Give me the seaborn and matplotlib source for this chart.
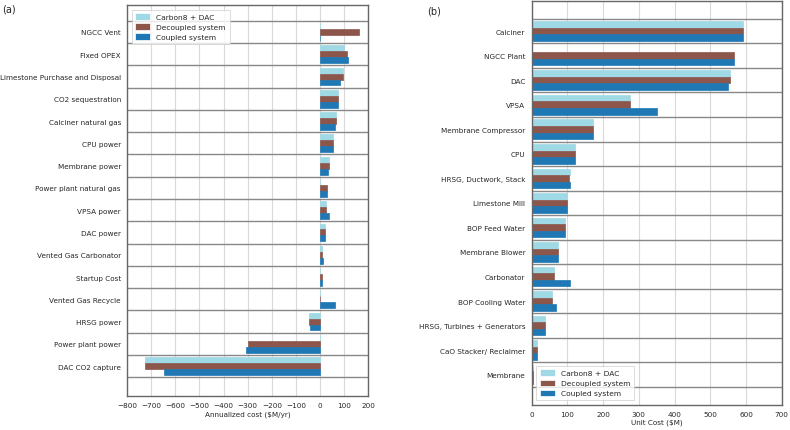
import numpy as np
import pandas as pd
import matplotlib
matplotlib.use('AGG')
from matplotlib import pyplot as plt
import seaborn as sns

# Series names and colours
series = ['Carbon8 + DAC', 'Decoupled system', 'Coupled system']
colors = ['#9fd9e5', '#8c564b', '#1f77b4']

# (a) annualized cost, $M/yr
cost_items = ['NGCC Vent', 'Fixed OPEX', 'Limestone Purchase and Disposal', 'CO2 sequestration',
              'Calciner natural gas', 'CPU power', 'Membrane power', 'Power plant natural gas',
              'VPSA power', 'DAC power', 'Vented Gas Carbonator', 'Startup Cost',
              'Vented Gas Recycle', 'HRSG power', 'Power plant power', 'DAC CO2 capture']
cost_carbon8 = [0, 101, 95, 75, 65, 54, 39, 0, 25, 21, 7, 0, 0, -47, 0, -727]
cost_decoupled = [161, 111, 96, 75, 66, 54, 39, 28, 25, 21, 7, 7, 0, -47, -298, -727]
cost_coupled = [0, 115, 85, 76, 64, 54, 35, 31, 36, 21, 11, 7, 62, -42, -305, -647]

# (b) unit cost, $M
unit_items = ['Calciner', 'NGCC Plant', 'DAC', 'VPSA', 'Membrane Compressor', 'CPU',
              'HRSG, Ductwork, Stack', 'Limestone Mill', 'BOP Feed Water', 'Membrane Blower',
              'Carbonator', 'BOP Cooling Water', 'HRSG, Turbines + Generators',
              'CaO Stacker/ Reclaimer', 'Membrane']
unit_carbon8 = [593, 0, 554, 274, 173, 122, 106, 100, 94, 73, 63, 56, 36, 16, 3]
unit_decoupled = [593, 566, 555, 274, 173, 122, 105, 100, 94, 73, 63, 56, 36, 16, 5]
unit_coupled = [593, 567, 551, 352, 173, 122, 106, 100, 94, 73, 107, 69, 36, 16, 5]


def to_long(items, vals):
    frames = []
    for name, v in zip(series, vals):
        frames.append(pd.DataFrame({'item': items, 'value': v, 'system': name}))
    return pd.concat(frames, ignore_index=True)


df_a = to_long(cost_items, [cost_carbon8, cost_decoupled, cost_coupled])
df_b = to_long(unit_items, [unit_carbon8, unit_decoupled, unit_coupled])

sns.set_style('white')
plt.rcParams['font.family'] = ['DejaVu Sans']
fs = 5.2

fig = plt.figure(figsize=(7.9, 4.31), dpi=100)
ax1 = fig.add_axes([0.161, 0.079, 0.305, 0.907])
ax2 = fig.add_axes([0.673, 0.059, 0.3165, 0.936])


def style_axis(ax, n, xlim, xticks, ylim, xlabel, legend_loc):
    ax.set_xlim(*xlim)
    ax.set_xticks(xticks)
    ax.set_ylim(*ylim)
    ax.set_yticks(range(n), minor=False)
    ax.set_yticks(np.arange(-0.5, n, 1.0), minor=True)
    ax.grid(True, axis='x', which='major', color='#d9d9d9', lw=0.8)
    ax.grid(True, axis='y', which='minor', color='#888888', lw=1.0)
    ax.grid(False, axis='y', which='major')
    ax.set_axisbelow(True)
    ax.tick_params(axis='both', which='major', labelsize=fs, length=2.5, width=0.6, pad=2)
    ax.tick_params(axis='y', which='minor', length=0)
    ax.set_xlabel(xlabel, fontsize=fs, labelpad=1.5)
    ax.set_ylabel('')
    for s in ax.spines.values():
        s.set_color('#666666')
        s.set_linewidth(1.0)
    leg = ax.legend(loc=legend_loc, fontsize=fs + 0.2, frameon=True, borderpad=0.5,
                    handlelength=2.0, handleheight=0.9, labelspacing=0.45,
                    handletextpad=0.8, fancybox=False, borderaxespad=0.6)
    leg.get_frame().set_edgecolor('#cccccc')
    leg.get_frame().set_linewidth(0.6)


sns.barplot(data=df_a, y='item', x='value', hue='system', hue_order=series, palette=colors,
            orient='h', ax=ax1, saturation=1, width=0.8, linewidth=0.5)
style_axis(ax1, len(cost_items), (-800, 200), np.arange(-800, 201, 100),
           (16.34, -1.21), 'Annualized cost ($M/yr)', 'upper left')

sns.barplot(data=df_b, y='item', x='value', hue='system', hue_order=series, palette=colors,
            orient='h', ax=ax2, saturation=1, width=0.8, linewidth=0.5)
style_axis(ax2, len(unit_items), (0, 700), np.arange(0, 701, 100),
           (15.22, -1.22), 'Unit Cost ($M)', 'lower left')

for ax in (ax1, ax2):
    for p in ax.patches:
        p.set_edgecolor(p.get_facecolor())

fig.text(0.003, 0.99, '(a)', fontsize=7, va='top', ha='left')
fig.text(0.541, 0.985, '(b)', fontsize=7, va='top', ha='left')

plt.savefig('out.png', dpi=100)
